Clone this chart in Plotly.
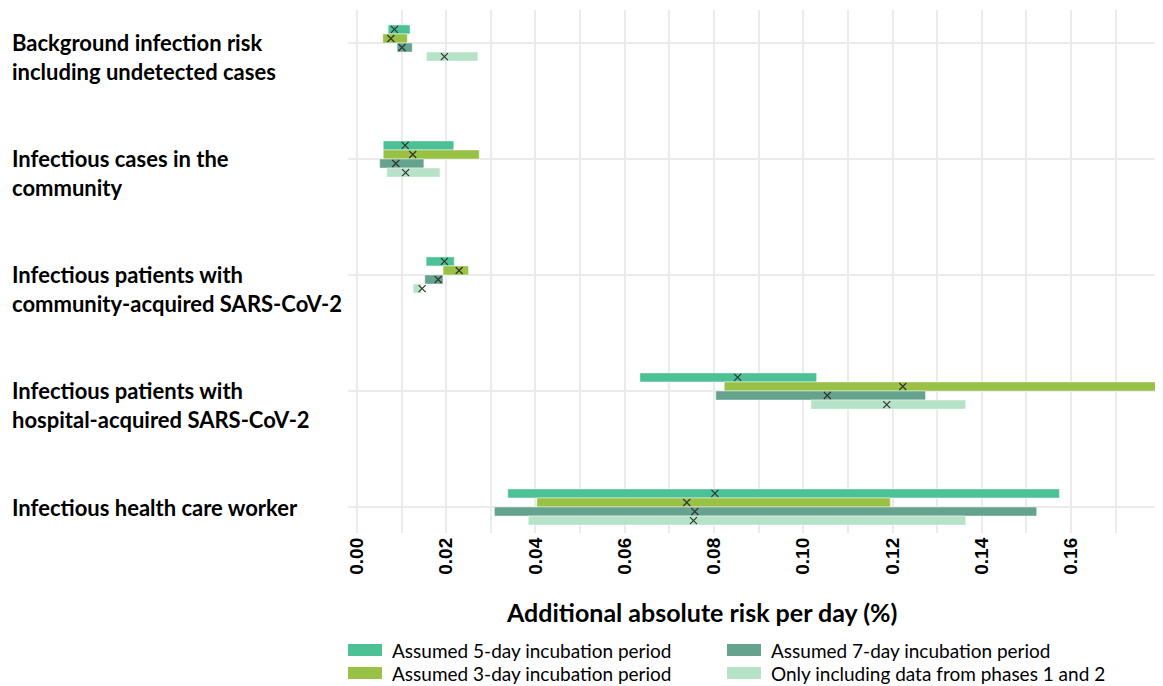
import plotly.graph_objects as go

categories = [
    "Background infection risk<br>including undetected cases",
    "Infectious cases in the<br>community",
    "Infectious patients with<br>community-acquired SARS-CoV-2",
    "Infectious patients with<br>hospital-acquired SARS-CoV-2",
    "Infectious health care worker",
]

series_names = [
    "Assumed 5-day incubation period",
    "Assumed 3-day incubation period",
    "Assumed 7-day incubation period",
    "Only including data from phases 1 and 2",
]

low_5d = [0.0070, 0.0059, 0.0155, 0.0634, 0.0338]
high_5d = [0.0119, 0.0217, 0.0218, 0.1030, 0.1574]
point_5d = [0.0084, 0.0108, 0.0196, 0.0853, 0.0802]

low_3d = [0.0058, 0.0059, 0.0193, 0.0823, 0.0403]
high_3d = [0.0113, 0.0274, 0.0250, 0.1900, 0.1195]
point_3d = [0.0076, 0.0125, 0.0229, 0.1223, 0.0739]

low_7d = [0.0090, 0.0051, 0.0152, 0.0804, 0.0308]
high_7d = [0.0124, 0.0150, 0.0193, 0.1274, 0.1523]
point_7d = [0.0101, 0.0087, 0.0182, 0.1054, 0.0757]

low_ph = [0.0156, 0.0067, 0.0126, 0.1017, 0.0384]
high_ph = [0.0271, 0.0186, 0.0145, 0.1364, 0.1364]
point_ph = [0.0196, 0.0109, 0.0146, 0.1187, 0.0754]

x_ticks = [0.00, 0.02, 0.04, 0.06, 0.08, 0.10, 0.12, 0.14, 0.16]
x_title = "Additional absolute risk per day (%)"

colors = ["#4CC196", "#98C146", "#66A38F", "#B6E3C8"]
lows = [low_5d, low_3d, low_7d, low_ph]
highs = [high_5d, high_3d, high_7d, high_ph]
points = [point_5d, point_3d, point_7d, point_ph]

# page has an 8px body margin; figure sized to fill the rest of the window
OFF = 8
W, H = 1163 - OFF, 686 - OFF
PLOT_L, PLOT_T, PLOT_B = 348, 10, 533  # in window pixels
ML, MR, MT, MB = PLOT_L - OFF, 0, PLOT_T - OFF, H - (PLOT_B - OFF)
PW, PH = W - ML - MR, H - MT - MB


def px2x(px):
    return (px - OFF - ML) / PW


def px2y(py):
    return (H - MB - (py - OFF)) / PH


bw = 0.078
offsets = [-1.5, -0.5, 0.5, 1.5]

fig = go.Figure()
idx = list(range(len(categories)))
for k in range(4):
    ys = [i + offsets[k] * bw for i in idx]
    fig.add_trace(go.Bar(
        orientation="h",
        y=ys,
        base=lows[k],
        x=[h - l for h, l in zip(highs[k], lows[k])],
        width=bw,
        marker=dict(color=colors[k], line=dict(color="rgba(255,255,255,0.45)", width=1)),
        name=series_names[k],
        showlegend=False,
    ))
for k in range(4):
    ys = [i + offsets[k] * bw for i in idx]
    fig.add_trace(go.Scatter(
        x=points[k], y=ys, mode="markers",
        marker=dict(symbol="x-thin", size=7, line=dict(color="#333333", width=1.2)),
        showlegend=False, hoverinfo="skip",
    ))

fig.update_layout(
    width=W, height=H,
    margin=dict(l=ML, r=MR, t=MT, b=MB),
    plot_bgcolor="white", paper_bgcolor="white",
    barmode="overlay",
    font=dict(family="Lato", color="black"),
)
fig.update_xaxes(
    range=[-0.002, 0.1806],
    tickvals=x_ticks, tickformat=".2f", tickangle=-90,
    tickfont=dict(family="Liberation Sans", size=19, weight="bold", color="black"),
    showgrid=True, gridcolor="#EBEBEB", gridwidth=1.5,
    minor=dict(dtick=0.01, tick0=0, showgrid=True, gridcolor="#EBEBEB", gridwidth=1.5),
    zeroline=False, showline=False, ticks="",
)
fig.update_yaxes(
    range=[4 + (PLOT_B - 507) / 116, -(43 - PLOT_T) / 116], tickvals=idx, showticklabels=False,
    showgrid=True, gridcolor="#EBEBEB", gridwidth=2, zeroline=False, ticks="",
)

fs = 22
lh = fs * 1.25
for i, c in enumerate(categories):
    n = c.count("<br>") + 1
    fig.add_annotation(
        x=px2x(10), xref="paper", y=i, yref="y", text="<b>%s</b>" % c,
        xanchor="left", yanchor="middle", align="left", showarrow=False,
        yshift=-(n - 1) * lh / 2,
        font=dict(family="Lato", size=fs, color="black"),
    )

fig.add_annotation(
    x=px2x(701), xref="paper", y=px2y(612), yref="paper", text="<b>%s</b>" % x_title,
    xanchor="center", yanchor="middle", showarrow=False,
    font=dict(family="Lato", size=25, color="black"),
)

# legend (manual)
leg_pos = [(348, 650), (348, 673), (727, 650), (727, 673)]
for k in range(4):
    sx, sy = leg_pos[k]
    fig.add_shape(type="rect", xref="paper", yref="paper",
                  x0=px2x(sx), x1=px2x(sx + 34), y0=px2y(sy - 6), y1=px2y(sy + 6),
                  fillcolor=colors[k], line=dict(width=0))
    fig.add_annotation(
        x=px2x(sx + 42), xref="paper", y=px2y(sy), yref="paper", text=series_names[k],
        xanchor="left", yanchor="middle", showarrow=False,
        font=dict(family="Lato", size=19, color="black"),
    )

fig.write_html("out.html")
